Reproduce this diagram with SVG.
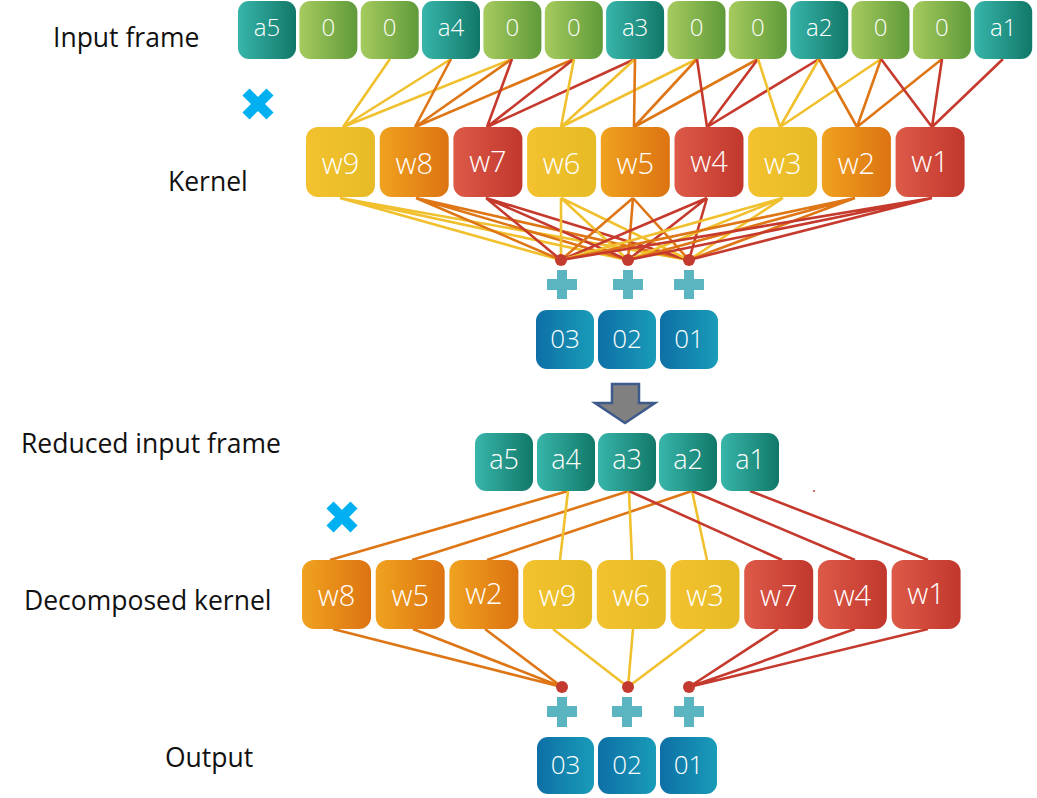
<svg xmlns="http://www.w3.org/2000/svg" width="1037" height="798" viewBox="0 0 1037 798">
<defs>
<linearGradient id="gTeal" x1="0" y1="0" x2="1" y2="0"><stop offset="0" stop-color="#38B5AA"/><stop offset="1" stop-color="#117868"/></linearGradient>
<linearGradient id="gGreen" x1="0" y1="0" x2="1" y2="0"><stop offset="0" stop-color="#A6CB5E"/><stop offset="1" stop-color="#5F9A3A"/></linearGradient>
<linearGradient id="gYellow" x1="0" y1="0" x2="1" y2="0"><stop offset="0" stop-color="#F3C22E"/><stop offset="1" stop-color="#E6BB26"/></linearGradient>
<linearGradient id="gOrange" x1="0" y1="0" x2="1" y2="0"><stop offset="0" stop-color="#F0A21F"/><stop offset="1" stop-color="#DC7312"/></linearGradient>
<linearGradient id="gRed" x1="0" y1="0" x2="1" y2="0"><stop offset="0" stop-color="#DD5A48"/><stop offset="1" stop-color="#C1372D"/></linearGradient>
<linearGradient id="gBlue" x1="0" y1="0" x2="1" y2="0"><stop offset="0" stop-color="#0E6FA6"/><stop offset="1" stop-color="#199CB8"/></linearGradient>
</defs>
<style>
.lbl{font-family:"Open Sans","Noto Sans",sans-serif;font-size:26.5px;fill:#111}
.bt{font-family:"Open Sans","Noto Sans",sans-serif;font-weight:300;fill:#fff;text-anchor:middle}
.teal{fill:url(#gTeal)}
.green{fill:url(#gGreen)}
.yellow{fill:url(#gYellow)}
.orange{fill:url(#gOrange)}
.red{fill:url(#gRed)}
.blue{fill:url(#gBlue)}
.ly{stroke:#F0C02E;stroke-width:2.6;fill:none}
.lo{stroke:#DE7616;stroke-width:2.6;fill:none}
.lr{stroke:#C63A2E;stroke-width:2.6;fill:none}
.dot{fill:#C23B2E}
.plus{fill:#5BB5C1}
.x{stroke:#00B0F0;stroke-width:10;fill:none}
</style>

<!-- Labels -->
<g id="labels">
<text class="lbl" x="53" y="47">Input frame</text>
<text class="lbl" x="168" y="191">Kernel</text>
<text class="lbl" x="21" y="453">Reduced input frame</text>
<text class="lbl" x="24" y="610">Decomposed kernel</text>
<text class="lbl" x="165" y="767">Output</text>
</g>

<!-- Connectors -->
<g id="connectors">
<!-- input -> kernel -->
<path class="ly" d="M390,59L343,127M451,59L343,127M512,59L343,127"/>
<path class="lo" d="M451,59L415,127M512,59L415,127M574,59L415,127"/>
<path class="lr" d="M512,59L487,127M574,59L487,127M635,59L487,127"/>
<path class="ly" d="M574,59L561,127M635,59L561,127M697,59L561,127"/>
<path class="lo" d="M635,59L634,127M697,59L634,127M758,59L634,127"/>
<path class="lr" d="M697,59L707,127M758,59L707,127M819,59L707,127"/>
<path class="ly" d="M758,59L780,127M819,59L780,127M881,59L780,127"/>
<path class="lo" d="M819,59L857,127M881,59L857,127M942,59L857,127"/>
<path class="lr" d="M881,59L932,127M942,59L932,127M1003,59L932,127"/>
<!-- kernel -> sums -->
<path class="ly" d="M340,198L561,260M340,198L628,260M340,198L689,260"/>
<path class="lo" d="M416,198L561,260M416,198L628,260M416,198L689,260"/>
<path class="lr" d="M486,198L561,260M486,198L628,260M486,198L689,260"/>
<path class="ly" d="M561,198L561,260M561,198L628,260M561,198L689,260"/>
<path class="lo" d="M633,198L561,260M633,198L628,260M633,198L689,260"/>
<path class="lr" d="M707,198L561,260M707,198L628,260M707,198L689,260"/>
<path class="ly" d="M783,198L561,260M783,198L628,260M783,198L689,260"/>
<path class="lo" d="M855,198L561,260M855,198L628,260M855,198L689,260"/>
<path class="lr" d="M932,198L561,260M932,198L628,260M932,198L689,260"/>
<!-- reduced -> decomposed -->
<path class="lo" d="M568,491L330,560M629,491L412,560M692,491L487,560"/>
<path class="ly" d="M568,491L560,560M629,491L632,560M692,491L707,560"/>
<path class="lr" d="M629,491L782,560M692,491L855,560M750,491L928,560"/>
<!-- decomposed -> sums -->
<path class="lo" d="M333,629L562,687M413,629L562,687M485,629L562,687"/>
<path class="ly" d="M553,629L628,687M633,629L628,687M705,629L628,687"/>
<path class="lr" d="M778,629L689,687M855,629L689,687M928,629L689,687"/>
</g>

<!-- Input frame -->
<g id="input-frame">
<g id="in-a5"><rect class="teal" x="238" y="1" width="58" height="58" rx="11"/><text class="bt" x="267" y="36" font-size="24">a5</text></g>
<g id="in-0a"><rect class="green" x="299.4" y="1" width="58" height="58" rx="11"/><text class="bt" x="328.4" y="36" font-size="24">0</text></g>
<g id="in-0b"><rect class="green" x="360.7" y="1" width="58" height="58" rx="11"/><text class="bt" x="389.7" y="36" font-size="24">0</text></g>
<g id="in-a4"><rect class="teal" x="422" y="1" width="58" height="58" rx="11"/><text class="bt" x="451" y="36" font-size="24">a4</text></g>
<g id="in-0c"><rect class="green" x="483.4" y="1" width="58" height="58" rx="11"/><text class="bt" x="512.4" y="36" font-size="24">0</text></g>
<g id="in-0d"><rect class="green" x="544.8" y="1" width="58" height="58" rx="11"/><text class="bt" x="573.8" y="36" font-size="24">0</text></g>
<g id="in-a3"><rect class="teal" x="606.1" y="1" width="58" height="58" rx="11"/><text class="bt" x="635.1" y="36" font-size="24">a3</text></g>
<g id="in-0e"><rect class="green" x="667.5" y="1" width="58" height="58" rx="11"/><text class="bt" x="696.5" y="36" font-size="24">0</text></g>
<g id="in-0f"><rect class="green" x="728.8" y="1" width="58" height="58" rx="11"/><text class="bt" x="757.8" y="36" font-size="24">0</text></g>
<g id="in-a2"><rect class="teal" x="790.2" y="1" width="58" height="58" rx="11"/><text class="bt" x="819.2" y="36" font-size="24">a2</text></g>
<g id="in-0g"><rect class="green" x="851.5" y="1" width="58" height="58" rx="11"/><text class="bt" x="880.5" y="36" font-size="24">0</text></g>
<g id="in-0h"><rect class="green" x="912.9" y="1" width="58" height="58" rx="11"/><text class="bt" x="941.9" y="36" font-size="24">0</text></g>
<g id="in-a1"><rect class="teal" x="974.2" y="1" width="58" height="58" rx="11"/><text class="bt" x="1003.2" y="36" font-size="24">a1</text></g>
</g>

<!-- Multiply marks -->
<g id="mul-1"><path class="x" d="M246,92L270,116M270,92L246,116"/></g>
<g id="mul-2"><path class="x" d="M330,505L354,529M354,505L330,529"/></g>

<!-- Kernel -->
<g id="kernel">
<g id="k-w9"><rect class="yellow" x="306" y="127" width="69" height="70" rx="12"/><text class="bt" x="340.5" y="174" font-size="29">w9</text></g>
<g id="k-w8"><rect class="orange" x="379.7" y="127" width="69" height="70" rx="12"/><text class="bt" x="414.2" y="174" font-size="29">w8</text></g>
<g id="k-w7"><rect class="red" x="453.4" y="127" width="69" height="70" rx="12"/><text class="bt" x="487.9" y="172" font-size="29">w7</text></g>
<g id="k-w6"><rect class="yellow" x="527.1" y="127" width="69" height="70" rx="12"/><text class="bt" x="561.6" y="174" font-size="29">w6</text></g>
<g id="k-w5"><rect class="orange" x="600.8" y="127" width="69" height="70" rx="12"/><text class="bt" x="635.3" y="174" font-size="29">w5</text></g>
<g id="k-w4"><rect class="red" x="674.5" y="127" width="69" height="70" rx="12"/><text class="bt" x="709" y="172" font-size="29">w4</text></g>
<g id="k-w3"><rect class="yellow" x="748.2" y="127" width="69" height="70" rx="12"/><text class="bt" x="782.7" y="174" font-size="29">w3</text></g>
<g id="k-w2"><rect class="orange" x="821.9" y="127" width="69" height="70" rx="12"/><text class="bt" x="856.4" y="174" font-size="29">w2</text></g>
<g id="k-w1"><rect class="red" x="895.6" y="127" width="69" height="70" rx="12"/><text class="bt" x="930.1" y="172" font-size="29">w1</text></g>
</g>

<!-- Sum nodes top -->
<g id="sum-top">
<circle class="dot" cx="561" cy="260" r="6"/><circle class="dot" cx="628" cy="260" r="6"/><circle class="dot" cx="689" cy="260" r="6"/>
<path class="plus" d="M557,270h10v9h10v11h-10v9h-10v-9h-10v-11h10z"/>
<path class="plus" d="M623,270h10v9h10v11h-10v9h-10v-9h-10v-11h10z"/>
<path class="plus" d="M684,270h10v9h10v11h-10v9h-10v-9h-10v-11h10z"/>
</g>

<!-- Output top -->
<g id="output-top">
<g id="o1-03"><rect class="blue" x="536" y="310" width="58" height="59" rx="11"/><text class="bt" x="565" y="348" font-size="26">03</text></g>
<g id="o1-02"><rect class="blue" x="598" y="310" width="58" height="59" rx="11"/><text class="bt" x="627" y="348" font-size="26">02</text></g>
<g id="o1-01"><rect class="blue" x="660" y="310" width="58" height="59" rx="11"/><text class="bt" x="689" y="348" font-size="26">01</text></g>
</g>

<!-- Arrow -->
<g id="arrow"><path d="M612,384H639V403H655L625,423L595,403H612Z" fill="#808080" stroke="#3D5A8A" stroke-width="2.5" stroke-linejoin="miter"/></g>

<!-- Reduced input frame -->
<g id="reduced-frame">
<g id="r-a5"><rect class="teal" x="475" y="433" width="58" height="58" rx="11"/><text class="bt" x="504" y="469" font-size="27">a5</text></g>
<g id="r-a4"><rect class="teal" x="537" y="433" width="58" height="58" rx="11"/><text class="bt" x="566" y="469" font-size="27">a4</text></g>
<g id="r-a3"><rect class="teal" x="598" y="433" width="58" height="58" rx="11"/><text class="bt" x="627" y="469" font-size="27">a3</text></g>
<g id="r-a2"><rect class="teal" x="659" y="433" width="58" height="58" rx="11"/><text class="bt" x="688" y="469" font-size="27">a2</text></g>
<g id="r-a1"><rect class="teal" x="721" y="433" width="58" height="58" rx="11"/><text class="bt" x="750" y="469" font-size="27">a1</text></g>
<circle cx="814" cy="491" r="1" fill="#C63A2E"/>
</g>

<!-- Decomposed kernel -->
<g id="decomposed-kernel">
<g id="d-w8"><rect class="orange" x="302" y="560" width="69" height="69" rx="12"/><text class="bt" x="336.5" y="606" font-size="29">w8</text></g>
<g id="d-w5"><rect class="orange" x="375.7" y="560" width="69" height="69" rx="12"/><text class="bt" x="410.2" y="606" font-size="29">w5</text></g>
<g id="d-w2"><rect class="orange" x="449.4" y="560" width="69" height="69" rx="12"/><text class="bt" x="483.9" y="604" font-size="29">w2</text></g>
<g id="d-w9"><rect class="yellow" x="523.1" y="560" width="69" height="69" rx="12"/><text class="bt" x="557.6" y="606" font-size="29">w9</text></g>
<g id="d-w6"><rect class="yellow" x="596.8" y="560" width="69" height="69" rx="12"/><text class="bt" x="631.3" y="606" font-size="29">w6</text></g>
<g id="d-w3"><rect class="yellow" x="670.5" y="560" width="69" height="69" rx="12"/><text class="bt" x="705" y="606" font-size="29">w3</text></g>
<g id="d-w7"><rect class="red" x="744.2" y="560" width="69" height="69" rx="12"/><text class="bt" x="778.7" y="606" font-size="29">w7</text></g>
<g id="d-w4"><rect class="red" x="817.9" y="560" width="69" height="69" rx="12"/><text class="bt" x="852.4" y="606" font-size="29">w4</text></g>
<g id="d-w1"><rect class="red" x="891.6" y="560" width="69" height="69" rx="12"/><text class="bt" x="926.1" y="604" font-size="29">w1</text></g>
</g>

<!-- Sum nodes bottom -->
<g id="sum-bottom">
<circle class="dot" cx="562" cy="687" r="6"/><circle class="dot" cx="628" cy="687" r="6"/><circle class="dot" cx="689" cy="687" r="6"/>
<path class="plus" d="M557,697h10v9h10v11h-10v10h-10v-10h-10v-11h10z"/>
<path class="plus" d="M622,697h10v9h10v11h-10v10h-10v-10h-10v-11h10z"/>
<path class="plus" d="M684,697h10v9h10v11h-10v10h-10v-10h-10v-11h10z"/>
</g>

<!-- Output bottom -->
<g id="output-bottom">
<g id="o2-03"><rect class="blue" x="537" y="737" width="57" height="57" rx="11"/><text class="bt" x="565.5" y="774" font-size="26">03</text></g>
<g id="o2-02"><rect class="blue" x="598" y="737" width="58" height="57" rx="11"/><text class="bt" x="627" y="774" font-size="26">02</text></g>
<g id="o2-01"><rect class="blue" x="660" y="737" width="57" height="57" rx="11"/><text class="bt" x="688.5" y="774" font-size="26">01</text></g>
</g>
</svg>
